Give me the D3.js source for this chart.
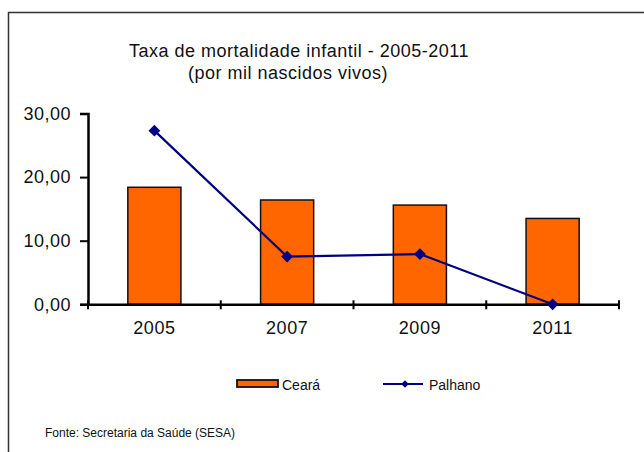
<!DOCTYPE html>
<html><head><meta charset="utf-8">
<script src="https://cdn.jsdelivr.net/npm/d3@7"></script>
<style>body{margin:0;background:#fff}svg{display:block;font-family:Arial,"Liberation Sans",sans-serif}</style>
</head><body><svg id="c" width="644" height="452"></svg>
<script>
const years = ["2005","2007","2009","2011"];
const ceara = [18.4, 16.4, 15.6, 13.5];
const palhano = [27.3, 7.5, 7.9, 0.0];
const yTicks = [0, 10, 20, 30];
const titleLines = ["Taxa de mortalidade infantil - 2005-2011", "(por mil nascidos vivos)"];
const seriesNames = ["Ceará", "Palhano"];
const source = "Fonte: Secretaria da Saúde  (SESA)";

const FF = "Arial,'Liberation Sans',sans-serif";
const svg = d3.select("#c");
svg.append("rect").attr("x",0).attr("y",0).attr("width",644).attr("height",452).attr("fill","#fff");
// frame
svg.append("path").attr("d","M8.5,460 V12.5 H660").attr("fill","none").attr("stroke","#333").attr("stroke-width",1.5);

const x = d3.scaleBand().domain(years).range([88,619]).paddingInner(0).paddingOuter(0);
const y = d3.scaleLinear().domain([0,30]).range([304.3,113.5]);

svg.append("text").attr("x",299).attr("y",57).attr("text-anchor","middle").attr("font-size",18).attr("letter-spacing",0.5).attr("fill","#111").text(titleLines[0]);
svg.append("text").attr("x",288).attr("y",79).attr("text-anchor","middle").attr("font-size",18).attr("letter-spacing",0.5).attr("fill","#111").text(titleLines[1]);

// bars
const bw = x.bandwidth()*0.4;
svg.selectAll(".bar").data(years).enter().append("rect")
  .attr("x",d=>x(d)+x.bandwidth()/2-bw/2)
  .attr("y",(d,i)=>y(ceara[i]))
  .attr("width",bw)
  .attr("height",(d,i)=>y(0)-y(ceara[i]))
  .attr("fill","#ff6600").attr("stroke","#111").attr("stroke-width",1.5);

// y axis
const fmt = v => d3.format(".2f")(v).replace(".",",");
const ya = svg.append("g").attr("transform","translate(88,0)")
  .call(d3.axisLeft(y).tickValues(yTicks).tickFormat(fmt).tickSize(8).tickPadding(9));
ya.select(".domain").attr("stroke","#000").attr("stroke-width",2.5);
ya.selectAll(".tick line").attr("stroke","#000").attr("stroke-width",2);
ya.selectAll(".tick text").attr("font-size",18).attr("letter-spacing",0.5).attr("fill","#111").attr("font-family",FF);

// x axis
const xa = svg.append("g").attr("transform","translate(0,304.3)")
  .call(d3.axisBottom(x).tickSize(0).tickPadding(17));
xa.select(".domain").attr("stroke","#000").attr("stroke-width",2.5);
xa.selectAll(".tick text").attr("font-size",18).attr("letter-spacing",0.5).attr("fill","#111").attr("font-family",FF);
const edges = years.map(d=>x(d)).concat([x(years[years.length-1])+x.bandwidth()]);
xa.selectAll(".edge").data(edges).enter().append("line")
  .attr("x1",d=>d).attr("x2",d=>d).attr("y1",-4).attr("y2",5)
  .attr("stroke","#000").attr("stroke-width",2);

// line
const cx = d=>x(d)+x.bandwidth()/2;
const line = d3.line().x((d,i)=>cx(years[i])).y(d=>y(d));
svg.append("path").datum(palhano).attr("d",line).attr("fill","none").attr("stroke","#000080").attr("stroke-width",2.2);
svg.selectAll(".pt").data(palhano).enter().append("path")
  .attr("d",d3.symbol().type(d3.symbolSquare).size(70))
  .attr("transform",(d,i)=>`translate(${cx(years[i])},${y(d)}) rotate(45)`)
  .attr("fill","#000080");

// legend
svg.append("rect").attr("x",237).attr("y",380).attr("width",41).attr("height",7).attr("fill","#ff6600").attr("stroke","#111").attr("stroke-width",1.8);
svg.append("text").attr("x",282).attr("y",390).attr("font-size",14).attr("fill","#111").text(seriesNames[0]);
svg.append("line").attr("x1",383).attr("x2",423).attr("y1",384).attr("y2",384).attr("stroke","#000080").attr("stroke-width",2);
svg.append("path").attr("d",d3.symbol().type(d3.symbolSquare).size(28)).attr("transform","translate(405,384) rotate(45)").attr("fill","#000080");
svg.append("text").attr("x",429).attr("y",390).attr("font-size",14).attr("fill","#111").text(seriesNames[1]);

svg.append("text").attr("x",45).attr("y",437).attr("font-size",12).attr("fill","#111").text(source);
</script></body></html>
